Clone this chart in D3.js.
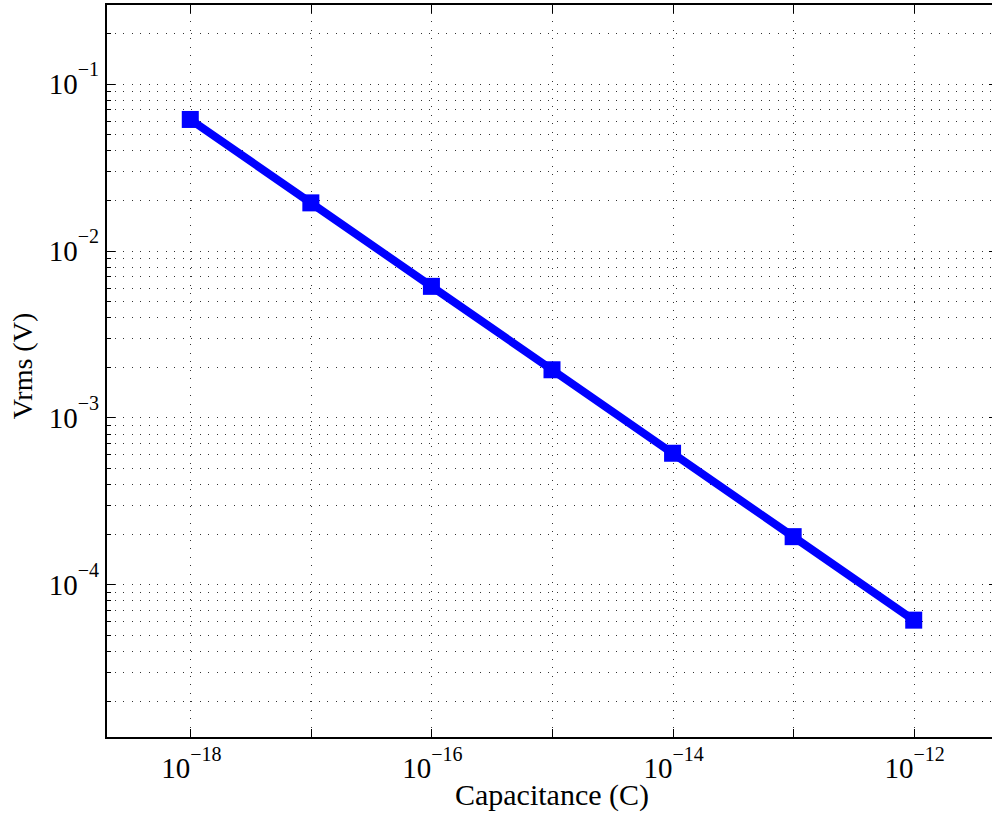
<!DOCTYPE html>
<html>
<head>
<meta charset="utf-8">
<script src="https://cdn.jsdelivr.net/npm/d3@7"></script>
<style>
  body { margin: 0; background: #fff; }
</style>
</head>
<body>
<svg id="chart" width="992" height="820" font-family="'Liberation Serif', 'Times New Roman', Times, serif"></svg>
<script>
// data
const capacitance = [1e-18, 1e-17, 1e-16, 1e-15, 1e-14, 1e-13, 1e-12];
const vrms = [0.061, 0.0193, 0.0061, 0.00193, 0.00061, 0.000193, 0.000061];

const xTickValues = [1e-18, 1e-17, 1e-16, 1e-15, 1e-14, 1e-13, 1e-12];
const xTickLabels = [
    ["10", "\u221218"], null, ["10", "\u221216"], null,
    ["10", "\u221214"], null, ["10", "\u221212"]
];
const yTickValues = [1e-1, 1e-2, 1e-3, 1e-4];
const yTickLabels = [["10", "\u22121"], ["10", "\u22122"], ["10", "\u22123"], ["10", "\u22124"]];

const xLabel = "Capacitance (C)";
const yLabel = "Vrms (V)";

const svg = d3.select("#chart");

const axL = 106, axR = 998, axT = 4, axB = 738;

const x = d3.scaleLog().domain([2e-19, 5e-12]).range([axL, axR]);
const y = d3.scaleLog().domain([1.2e-5, 0.3]).range([axB, axT]);

// minor y values (2..9 per decade) inside domain
const yMinor = [];
for (let e = -6; e <= 0; e++) {
    for (let m = 2; m <= 9; m++) {
        const v = m * Math.pow(10, e);
        if (v >= 1.2e-5 && v <= 0.3) yMinor.push(v);
    }
}
const yAllGrid = yTickValues.concat(yMinor);

const grid = svg.append("g")
    .attr("stroke", "#333")
    .attr("stroke-width", 1)
    .attr("stroke-dasharray", "1,7.5")
    .attr("shape-rendering", "crispEdges");

grid.selectAll("line.hx")
    .data(yAllGrid)
    .enter().append("line")
    .attr("x1", axL).attr("x2", axR)
    .attr("y1", d => Math.round(y(d)) + 0.5)
    .attr("y2", d => Math.round(y(d)) + 0.5);

grid.selectAll("line.vx")
    .data(xTickValues)
    .enter().append("line")
    .attr("y1", axT).attr("y2", axB)
    .attr("x1", d => Math.round(x(d)) + 0.5)
    .attr("x2", d => Math.round(x(d)) + 0.5);

// ticks (inside, MATLAB style)
const ticks = svg.append("g").attr("stroke", "#000").attr("stroke-width", 1);
xTickValues.forEach(v => {
    const px = Math.round(x(v)) + 0.5;
    ticks.append("line").attr("x1", px).attr("x2", px).attr("y1", axB).attr("y2", axB - 9);
    ticks.append("line").attr("x1", px).attr("x2", px).attr("y1", axT).attr("y2", axT + 9);
});
yTickValues.forEach(v => {
    const py = Math.round(y(v)) + 0.5;
    ticks.append("line").attr("x1", axL).attr("x2", axL + 9).attr("y1", py).attr("y2", py);
    ticks.append("line").attr("x1", axR).attr("x2", axR - 9).attr("y1", py).attr("y2", py);
});
yMinor.forEach(v => {
    const py = Math.round(y(v)) + 0.5;
    ticks.append("line").attr("x1", axL).attr("x2", axL + 5).attr("y1", py).attr("y2", py);
    ticks.append("line").attr("x1", axR).attr("x2", axR - 5).attr("y1", py).attr("y2", py);
});

// axes box
svg.append("rect")
    .attr("x", axL).attr("y", axT)
    .attr("width", axR - axL).attr("height", axB - axT)
    .attr("fill", "none")
    .attr("stroke", "#000")
    .attr("stroke-width", 2);

// series line
const pts = capacitance.map((c, i) => [c, vrms[i]]);
svg.append("path")
    .datum(pts)
    .attr("fill", "none")
    .attr("stroke", "#0000ff")
    .attr("stroke-width", 8)
    .attr("d", d3.line().x(d => x(d[0])).y(d => y(d[1])));

const ms = 17;
svg.selectAll("rect.mk")
    .data(pts)
    .enter().append("rect")
    .attr("class", "mk")
    .attr("x", d => x(d[0]) - ms / 2)
    .attr("y", d => y(d[1]) - ms / 2)
    .attr("width", ms).attr("height", ms)
    .attr("fill", "#0000ff");

// tick labels
xTickValues.forEach((v, i) => {
    const lab = xTickLabels[i];
    if (!lab) return;
    const t = svg.append("text")
        .attr("x", x(v) + 1)
        .attr("y", axB + 40)
        .attr("text-anchor", "middle")
        .attr("font-size", 29);
    t.append("tspan").text(lab[0]);
    t.append("tspan").attr("dy", -17).attr("font-size", 20).text(lab[1]);
});

yTickValues.forEach((v, i) => {
    const lab = yTickLabels[i];
    const t = svg.append("text")
        .attr("x", 99)
        .attr("y", y(v) + 10.5)
        .attr("text-anchor", "end")
        .attr("font-size", 29);
    t.append("tspan").text(lab[0]);
    t.append("tspan").attr("dy", -18).attr("font-size", 20).text(lab[1]);
});

// axis titles
svg.append("text")
    .attr("x", 552)
    .attr("y", 805)
    .attr("text-anchor", "middle")
    .attr("font-size", 30)
    .text(xLabel);

svg.append("text")
    .attr("transform", "translate(32,366) rotate(-90)")
    .attr("text-anchor", "middle")
    .attr("font-size", 28)
    .text(yLabel);
</script>
</body>
</html>
